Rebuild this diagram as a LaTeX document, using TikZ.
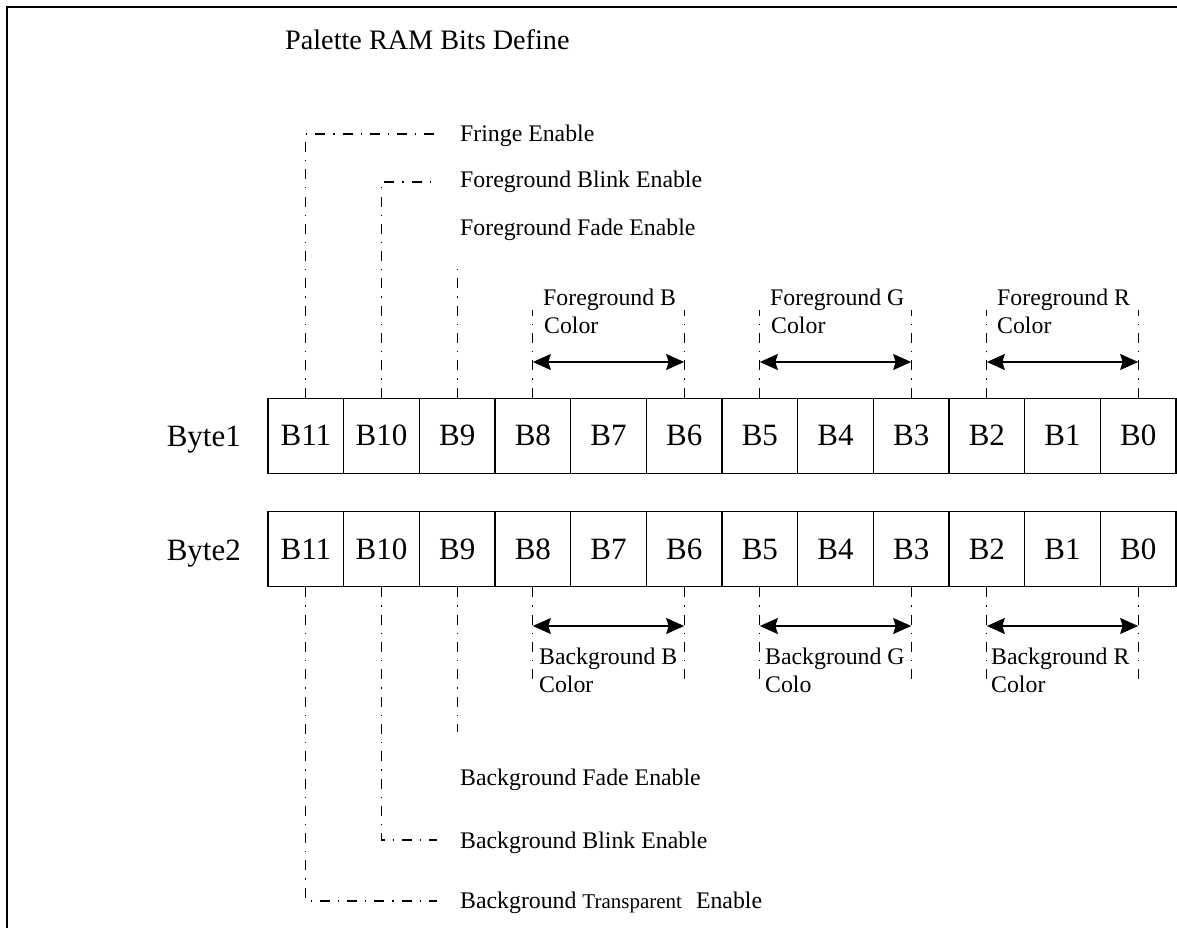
\documentclass[tikz,border=0pt]{standalone}
\usepackage{fontspec}
\setmainfont{Liberation Serif}
\usetikzlibrary{arrows.meta}

\begin{document}
\begin{tikzpicture}[x=1pt,y=-1pt,
  frame/.style={line width=2pt},
  cell/.style={draw, line width=1.3pt, minimum width=75.667pt, minimum height=75pt,
               inner sep=0pt, font=\fontsize{31}{36}\selectfont},
  rowlabel/.style={anchor=base east, inner sep=0pt, font=\fontsize{31}{36}\selectfont},
  lbl/.style={anchor=base west, inner sep=0pt, font=\fontsize{23.8}{28}\selectfont},
  dd/.style={line width=1.1pt, dash pattern=on 10pt off 8pt on 1.3pt off 8pt},
  span/.style={line width=1.6pt, {Stealth[length=18pt,width=16pt,inset=2.5pt]}-{Stealth[length=18pt,width=16pt,inset=2.5pt]}},
]
\useasboundingbox (0,0) rectangle (1177,928);

% open frame: top and left edges only
\draw[frame] (7,928) -- (7,7) -- (1177,7);

% title
\node[anchor=base west, inner sep=0pt, font=\fontsize{28.2}{34}\selectfont] (title) at (285,50)
  {Palette RAM Bits Define};

% the two 12-bit rows
\foreach \b [count=\i from 0] in {11,10,...,0} {
  \node[cell] (ra\b) at ({268+75.667*(\i+0.5)},435.75) {B\b};
  \node[cell] (rb\b) at ({268+75.667*(\i+0.5)},549.25) {B\b};
}
\node[rowlabel] (byte1) at (241,446) {Byte1};
\node[rowlabel] (byte2) at (241,560) {Byte2};

% helper levels
\coordinate (topA) at (0,310);
\coordinate (arrA) at (0,362);
\coordinate (botA) at (0,680);
\coordinate (arrB) at (0,626);

% ---- Byte1 fields ----
\coordinate (fringeEnd) at (437,134);
\coordinate (fblinkEnd) at (437,182);
\coordinate (ffadeTop) at (457,265);
\node[lbl] (fringe) at (460,142) {Fringe Enable};
\node[lbl] (fblink) at (460,188) {Foreground Blink Enable};
\node[lbl] (ffade) at (460,235) {Foreground Fade Enable};
\draw[dd] (ra11.north) |- (fringeEnd);
\draw[dd] (ra10.north) |- (fblinkEnd);
\draw[dd] (ra9.north) -- (ra9 |- ffadeTop);

\node[lbl] (fgB1) at (543,305) {Foreground B};
\node[lbl] (fgB2) at (544,333) {Color};
\node[lbl] (fgG1) at (770,305) {Foreground G};
\node[lbl] (fgG2) at (771,333) {Color};
\node[lbl] (fgR1) at (997,305) {Foreground R};
\node[lbl] (fgR2) at (997,333) {Color};
\foreach \b in {8,6,5,3,2,0}
  \draw[dd] (ra\b.north) -- (ra\b |- topA);
\draw[span] (ra8 |- arrA) -- (ra6 |- arrA);
\draw[span] (ra5 |- arrA) -- (ra3 |- arrA);
\draw[span] (ra2 |- arrA) -- (ra0 |- arrA);

% ---- Byte2 fields ----
\foreach \b in {8,6,5,3,2,0}
  \draw[dd] (rb\b.south) -- (rb\b |- botA);
\draw[span] (rb8 |- arrB) -- (rb6 |- arrB);
\draw[span] (rb5 |- arrB) -- (rb3 |- arrB);
\draw[span] (rb2 |- arrB) -- (rb0 |- arrB);
\node[lbl] (bgB1) at (539,664) {Background B};
\node[lbl] (bgB2) at (539,692) {Color};
\node[lbl] (bgG1) at (765,664) {Background G};
\node[lbl] (bgG2) at (765,692) {Colo};
\node[lbl] (bgR1) at (991,664) {Background R};
\node[lbl] (bgR2) at (991,692) {Color};

\coordinate (bfadeBot) at (457,732);
\coordinate (bblinkEnd) at (437,840);
\coordinate (btransEnd) at (437,901);
\draw[dd] (rb9.south) -- (rb9 |- bfadeBot);
\draw[dd] (rb10.south) |- (bblinkEnd);
\draw[dd] (rb11.south) |- (btransEnd);
\node[lbl] (bfade) at (460,785) {Background Fade Enable};
\node[lbl] (bblink) at (460,848) {Background Blink Enable};
\node[lbl] (btrans) at (460,908)
  {Background {\fontsize{21}{24}\selectfont Transparent}\hspace{14pt}Enable};
\end{tikzpicture}
\end{document}
